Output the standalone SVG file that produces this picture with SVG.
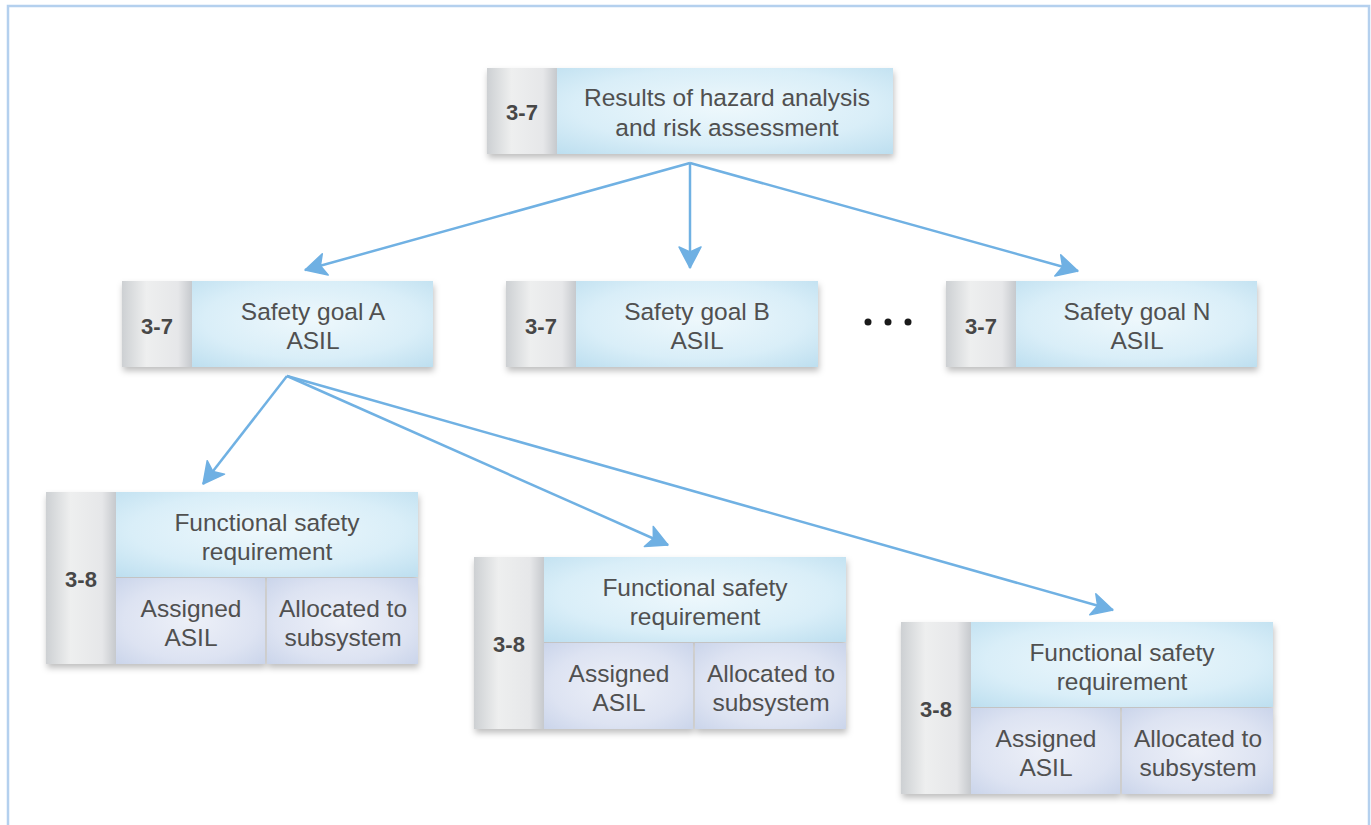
<svg xmlns="http://www.w3.org/2000/svg" width="1371" height="825" viewBox="0 0 1371 825">
<defs>
<linearGradient id="gGray" x1="0" y1="0" x2="1" y2="0">
<stop offset="0" stop-color="#cdd0d3"/>
<stop offset="0.35" stop-color="#eeefef"/>
<stop offset="0.8" stop-color="#e6e7e9"/>
<stop offset="1" stop-color="#c6c9cd"/>
</linearGradient>
<radialGradient id="gBlue" cx="0.5" cy="0.45" r="0.75">
<stop offset="0" stop-color="#eef8fc"/>
<stop offset="0.6" stop-color="#d9eef8"/>
<stop offset="1" stop-color="#bcdeef"/>
</radialGradient>
<radialGradient id="gLav" cx="0.5" cy="0.5" r="0.75">
<stop offset="0" stop-color="#edf0f8"/>
<stop offset="0.6" stop-color="#dde3f2"/>
<stop offset="1" stop-color="#c7d2e9"/>
</radialGradient>
<filter id="sh" x="-10%" y="-10%" width="120%" height="130%">
<feDropShadow dx="1" dy="4" stdDeviation="3" flood-color="#000" flood-opacity="0.25"/>
</filter>
<marker id="ah" markerUnits="userSpaceOnUse" markerWidth="28" markerHeight="28" viewBox="-24 -14 28 28" refX="0" refY="0" orient="auto">
<path d="M0,0 L-21,-11 L-16,0 L-21,11 Z" fill="#6fb0e3" stroke="#6fb0e3" stroke-width="1.5" stroke-linejoin="round"/>
</marker>
</defs>
<style>
.t{font-family:"Liberation Sans",Arial,sans-serif;font-size:24.5px;fill:#505050;text-anchor:middle}
.n{font-family:"Liberation Sans",Arial,sans-serif;font-size:22px;font-weight:bold;fill:#474747;text-anchor:middle}
.gray{fill:url(#gGray)}
.blue{fill:url(#gBlue)}
.lav{fill:url(#gLav)}
.c{stroke:#70b1e3;stroke-width:2.5;fill:none;marker-end:url(#ah)}
</style>
<rect x="8" y="6" width="1361" height="840" fill="#fff" stroke="#b4d0ee" stroke-width="2.5"/>

<g id="connectors">
<line class="c" x1="690" y1="163" x2="305" y2="270"/>
<line class="c" x1="690" y1="163" x2="690" y2="268"/>
<line class="c" x1="690" y1="163" x2="1078" y2="271"/>
<line class="c" x1="287" y1="376" x2="203" y2="484"/>
<line class="c" x1="287" y1="376" x2="668" y2="545"/>
<line class="c" x1="287" y1="376" x2="1113" y2="610"/>
</g>

<g id="hara">
<g filter="url(#sh)">
<rect class="gray" x="487" y="68" width="70" height="86"/>
<rect class="blue" x="557" y="68" width="336" height="86"/>
</g>
<text class="n" x="522" y="120">3-7</text>
<text class="t" x="727" y="106">Results of hazard analysis</text>
<text class="t" x="727" y="136">and risk assessment</text>
</g>

<g id="sgA">
<g filter="url(#sh)">
<rect class="gray" x="122" y="281" width="70" height="86"/>
<rect class="blue" x="192" y="281" width="241" height="86"/>
</g>
<text class="n" x="157" y="334">3-7</text>
<text class="t" x="313" y="320">Safety goal A</text>
<text class="t" x="313" y="349">ASIL</text>
</g>

<g id="sgB">
<g filter="url(#sh)">
<rect class="gray" x="506" y="281" width="70" height="86"/>
<rect class="blue" x="576" y="281" width="242" height="86"/>
</g>
<text class="n" x="541" y="334">3-7</text>
<text class="t" x="697" y="320">Safety goal B</text>
<text class="t" x="697" y="349">ASIL</text>
</g>

<g id="dots" fill="#1a1a1a">
<circle cx="868" cy="322" r="3.5"/>
<circle cx="888" cy="322" r="3.5"/>
<circle cx="908" cy="322" r="3.5"/>
</g>

<g id="sgN">
<g filter="url(#sh)">
<rect class="gray" x="946" y="281" width="70" height="86"/>
<rect class="blue" x="1016" y="281" width="241" height="86"/>
</g>
<text class="n" x="981" y="334">3-7</text>
<text class="t" x="1137" y="320">Safety goal N</text>
<text class="t" x="1137" y="349">ASIL</text>
</g>

<g id="fsr1">
<g filter="url(#sh)">
<rect class="gray" x="46" y="492" width="70" height="172"/>
<rect class="blue" x="116" y="492" width="302" height="85"/>
<rect class="lav" x="116" y="578" width="149" height="86"/>
<rect class="lav" x="267" y="578" width="151" height="86"/>
</g>
<text class="n" x="81" y="587">3-8</text>
<text class="t" x="267" y="531">Functional safety</text>
<text class="t" x="267" y="560">requirement</text>
<text class="t" x="191" y="617">Assigned</text>
<text class="t" x="191" y="646">ASIL</text>
<text class="t" x="343" y="617">Allocated to</text>
<text class="t" x="343" y="646">subsystem</text>
</g>

<g id="fsr2">
<g filter="url(#sh)">
<rect class="gray" x="474" y="557" width="70" height="172"/>
<rect class="blue" x="544" y="557" width="302" height="85"/>
<rect class="lav" x="544" y="643" width="149" height="86"/>
<rect class="lav" x="695" y="643" width="151" height="86"/>
</g>
<text class="n" x="509" y="652">3-8</text>
<text class="t" x="695" y="596">Functional safety</text>
<text class="t" x="695" y="625">requirement</text>
<text class="t" x="619" y="682">Assigned</text>
<text class="t" x="619" y="711">ASIL</text>
<text class="t" x="771" y="682">Allocated to</text>
<text class="t" x="771" y="711">subsystem</text>
</g>

<g id="fsr3">
<g filter="url(#sh)">
<rect class="gray" x="901" y="622" width="70" height="172"/>
<rect class="blue" x="971" y="622" width="302" height="85"/>
<rect class="lav" x="971" y="708" width="149" height="86"/>
<rect class="lav" x="1122" y="708" width="151" height="86"/>
</g>
<text class="n" x="936" y="717">3-8</text>
<text class="t" x="1122" y="661">Functional safety</text>
<text class="t" x="1122" y="690">requirement</text>
<text class="t" x="1046" y="747">Assigned</text>
<text class="t" x="1046" y="776">ASIL</text>
<text class="t" x="1198" y="747">Allocated to</text>
<text class="t" x="1198" y="776">subsystem</text>
</g>
</svg>
